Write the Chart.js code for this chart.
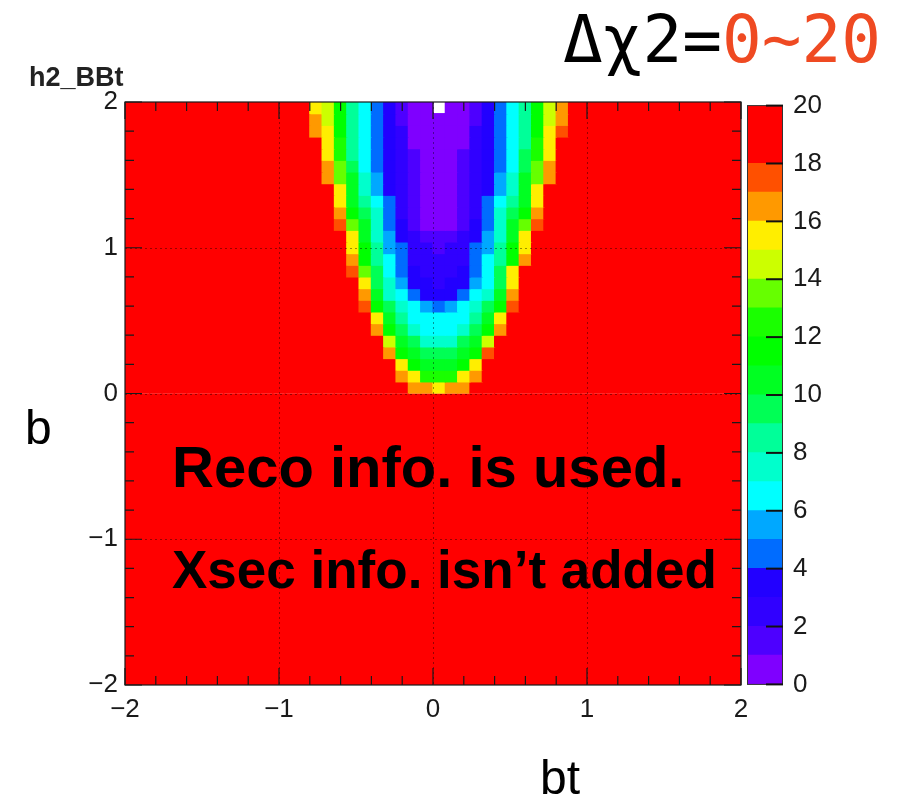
<!DOCTYPE html>
<html>
<head>
<meta charset="utf-8">
<script src="https://cdn.jsdelivr.net/npm/chart.js@4.4.1/dist/chart.umd.min.js"></script>
<style>
  html, body { margin: 0; padding: 0; background: #fff; }
  #wrap { position: relative; width: 900px; height: 799px; overflow: hidden; font-family: "Liberation Sans", Arial, sans-serif; }
  canvas { position: absolute; }
  .lbl { position: absolute; white-space: nowrap; line-height: 1; color: #000; }
</style>
</head>
<body>
<div id="wrap">
  <canvas id="hist" width="900" height="799" style="left:0;top:0"></canvas>
  <canvas id="pal" width="153" height="630" style="left:747px;top:80px"></canvas>
  <div class="lbl" style="left:29px;top:64px;font-size:27px;font-weight:bold;color:#222">h2_BBt</div>
  <div class="lbl" style="left:563px;top:7px;font-size:66px;font-family:'DejaVu Sans Mono',monospace">Δχ2=<span style="color:#ef4a22">0~20</span></div>
  <div class="lbl" style="left:25px;top:404px;font-size:48px">b</div>
  <div class="lbl" style="left:540px;top:754px;font-size:48px">bt</div>
  <div class="lbl" style="left:172px;top:438px;font-size:58px;font-weight:bold">Reco info. is used.</div>
  <div class="lbl" style="left:172px;top:543px;font-size:53px;font-weight:bold">Xsec info. isn’t added</div>
</div>
<script>
// binning of h2_BBt : 50 x 50 bins on [-2, 2] for both bt (x) and b (y)
const nBins = 50;
const axisMin = -2;
const axisMax = 2;

// Δχ2, one row per b bin from the top (b = 2) down to b = 0,
// columns are bt bins 14..36. All other cells are saturated red (>= 20).
const valleyFirstCol = 14;
const saturatedValue = 20;
const dchi2Rows = [
  [20, 15.6, 14.4, 11.5, 8.5, 6.5, 4.5, 3.0, 1.7, 0.8, 0.3, 0, 0.3, 0.8, 1.8, 3.0, 4.6, 6.4, 8.6, 11.4, 14.3, 16.4, 20],
  [20, 16.5, 14.3, 11.6, 8.6, 6.6, 4.6, 3.0, 1.8, 0.8, 0.3, 0.2, 0.3, 0.8, 1.8, 3.0, 4.6, 6.5, 8.7, 11.5, 14.2, 16.6, 20],
  [20, 16.9, 15.2, 11.8, 8.7, 6.7, 4.7, 3.1, 2.0, 0.9, 0.4, 0.3, 0.4, 0.9, 2.0, 3.1, 4.7, 6.6, 8.8, 11.8, 15.3, 17.2, 20],
  [20, 20, 15.4, 12.0, 8.8, 6.8, 4.8, 3.2, 2.1, 0.95, 0.5, 0.4, 0.5, 0.95, 2.1, 3.2, 4.8, 6.7, 8.9, 12.0, 15.5, 20, 20],
  [20, 20, 15.7, 12.3, 8.9, 6.9, 4.9, 3.3, 2.2, 1.2, 0.6, 0.5, 0.6, 1.2, 2.2, 3.3, 4.9, 6.8, 9.0, 12.3, 15.7, 20, 20],
  [20, 20, 16.2, 13.5, 9.6, 6.9, 4.95, 3.4, 2.3, 1.3, 0.65, 0.55, 0.65, 1.3, 2.3, 3.4, 4.95, 6.9, 9.7, 13.4, 16.3, 20, 20],
  [20, 20, 16.7, 13.8, 10.2, 7.4, 5.4, 3.5, 2.4, 1.4, 0.7, 0.6, 0.7, 1.4, 2.4, 3.5, 5.4, 7.5, 10.3, 13.9, 16.8, 20, 20],
  [20, 20, 20, 15.3, 10.6, 7.7, 5.7, 3.7, 2.5, 1.5, 0.75, 0.65, 0.75, 1.5, 2.5, 3.7, 5.6, 7.7, 10.5, 15.4, 20, 20, 20],
  [20, 20, 20, 15.6, 10.9, 8.6, 6.4, 4.4, 2.7, 1.6, 0.8, 0.7, 0.8, 1.6, 2.7, 4.4, 6.4, 8.7, 10.9, 15.7, 20, 20, 20],
  [20, 20, 20, 16.6, 11.6, 9.5, 7.2, 4.7, 2.9, 1.8, 0.9, 0.8, 0.9, 1.8, 2.9, 4.7, 7.0, 9.6, 11.8, 16.7, 20, 20, 20],
  [20, 20, 20, 17.0, 13.7, 10.2, 7.5, 4.9, 3.1, 1.9, 0.95, 0.9, 0.95, 1.9, 3.1, 4.9, 7.4, 10.3, 13.6, 17.1, 20, 20, 20],
  [20, 20, 20, 20, 15.3, 10.6, 7.9, 5.4, 3.4, 2.3, 1.7, 1.5, 1.7, 2.3, 3.4, 5.3, 7.8, 10.7, 15.4, 20, 20, 20, 20],
  [20, 20, 20, 20, 15.7, 11.0, 8.2, 5.7, 4.2, 2.6, 2.1, 1.9, 2.1, 2.6, 4.2, 5.6, 8.1, 11.0, 15.8, 20, 20, 20, 20],
  [20, 20, 20, 20, 16.5, 11.4, 8.6, 6.2, 4.5, 2.8, 2.4, 2.3, 2.4, 2.8, 4.5, 6.2, 8.5, 11.5, 16.8, 20, 20, 20, 20],
  [20, 20, 20, 20, 17.2, 13.8, 9.3, 6.6, 4.8, 3.1, 2.7, 2.6, 2.7, 3.1, 4.8, 6.6, 9.4, 15.0, 20, 20, 20, 20, 20],
  [20, 20, 20, 20, 20, 15.5, 9.8, 7.0, 5.0, 3.4, 3.0, 2.9, 3.0, 3.6, 5.2, 6.8, 9.6, 15.6, 20, 20, 20, 20, 20],
  [20, 20, 20, 20, 20, 16.6, 10.5, 7.8, 6.0, 4.6, 3.6, 3.5, 3.6, 4.6, 6.0, 7.8, 10.6, 16.7, 20, 20, 20, 20, 20],
  [20, 20, 20, 20, 20, 17.2, 11.0, 9.5, 7.5, 6.3, 5.0, 4.8, 5.0, 6.3, 7.6, 9.6, 11.2, 17.3, 20, 20, 20, 20, 20],
  [20, 20, 20, 20, 20, 20, 15.6, 10.8, 8.0, 6.8, 6.2, 6.1, 6.2, 6.8, 8.0, 10.9, 15.8, 20, 20, 20, 20, 20, 20],
  [20, 20, 20, 20, 20, 20, 16.8, 11.5, 9.5, 7.6, 6.7, 6.6, 6.7, 7.6, 9.6, 11.6, 16.9, 20, 20, 20, 20, 20, 20],
  [20, 20, 20, 20, 20, 20, 20, 14.6, 10.5, 9.3, 7.8, 7.6, 7.8, 9.3, 10.6, 14.8, 20, 20, 20, 20, 20, 20, 20],
  [20, 20, 20, 20, 20, 20, 20, 16.8, 11.2, 10.2, 9.6, 9.4, 9.6, 10.3, 11.3, 17.0, 20, 20, 20, 20, 20, 20, 20],
  [20, 20, 20, 20, 20, 20, 20, 20, 15.5, 11.5, 10.8, 10.6, 10.8, 11.6, 15.6, 20, 20, 20, 20, 20, 20, 20, 20],
  [20, 20, 20, 20, 20, 20, 20, 20, 16.8, 15.0, 12.8, 12.5, 12.8, 15.1, 16.9, 20, 20, 20, 20, 20, 20, 20, 20],
  [20, 20, 20, 20, 20, 20, 20, 20, 20, 16.7, 16.2, 15.5, 16.2, 16.7, 20, 20, 20, 20, 20, 20, 20, 20, 20]
];

// colour palette: one colour per unit of Δχ2 from 0 to 20
const zLevels = [0, 1, 2, 3, 4, 5, 6, 7, 8, 9, 10, 11, 12, 13, 14, 15, 16, 17, 18, 19, 20];
const levelColors = [
  '#7f00ff', '#4d00ff', '#3000ff', '#2200ff', '#006cff',
  '#00a8ff', '#00ffff', '#00ffcc', '#00ff99', '#00ff55',
  '#00ff22', '#00ff00', '#1aff00', '#66ff00', '#ccff00',
  '#ffee00', '#ff9900', '#ff5000', '#ff0000', '#ff0000'
];

const axisTicks = [-2, -1, 0, 1, 2];
const zTicks = [0, 2, 4, 6, 8, 10, 12, 14, 16, 18, 20];

Chart.defaults.font.family = '"Liberation Sans", Arial, sans-serif';

const binW = (axisMax - axisMin) / nBins;
const btLabels = [];
for (let k = 0; k < nBins; k++) btLabels.push((axisMin + (k + 0.5) * binW).toFixed(2));

function cellValue(row, col) {
  const r = dchi2Rows[row];
  if (!r) return saturatedValue;
  const i = col - valleyFirstCol;
  if (i < 0 || i >= r.length) return saturatedValue;
  return r[i];
}

function colorFor(v) {
  if (v <= 0) return 'rgba(255,255,255,0)'; // empty bin -> not drawn, as in ROOT
  return levelColors[Math.min(levelColors.length - 1, Math.floor(v))];
}

const minus = v => (v < 0 ? '\u2212' + Math.abs(v) : String(v));

// one floating-bar dataset per b row
const datasets = [];
for (let row = 0; row < nBins; row++) {
  const hi = axisMax - row * binW;
  const lo = hi - binW;
  const vals = btLabels.map((_, col) => cellValue(row, col));
  datasets.push({
    xAxisID: 'x',
    data: vals.map(() => [lo, hi]),
    backgroundColor: vals.map(colorFor),
    borderWidth: 0,
    borderSkipped: false,
    inflateAmount: 0.6,
    barPercentage: 1,
    categoryPercentage: 1,
    grouped: false
  });
}

// dotted grid, frame and inward ROOT style tick marks
const frameTicks = {
  id: 'frameTicks',
  afterDraw(chart) {
    const { ctx, chartArea: a } = chart;
    const sx = chart.scales.xt, sy = chart.scales.y;
    ctx.save();
    ctx.strokeStyle = 'rgba(0,0,0,0.4)';
    ctx.lineWidth = 1;
    ctx.setLineDash([2, 3]);
    axisTicks.slice(1, -1).forEach(v => {
      const px = Math.round(sx.getPixelForValue(v)) + 0.5;
      const py = Math.round(sy.getPixelForValue(v)) + 0.5;
      ctx.beginPath();
      ctx.moveTo(px, a.top); ctx.lineTo(px, a.bottom);
      ctx.moveTo(a.left, py); ctx.lineTo(a.right, py);
      ctx.stroke();
    });
    ctx.setLineDash([]);
    ctx.strokeStyle = '#1a1a1a';
    ctx.lineWidth = 1.2;
    ctx.strokeRect(a.left, a.top, a.right - a.left, a.bottom - a.top);
    for (let i = 0; i <= 20; i++) {
      const v = axisMin + i * 0.2;
      const len = i % 5 === 0 ? 17 : 9;
      const px = sx.getPixelForValue(v), py = sy.getPixelForValue(v);
      ctx.beginPath();
      ctx.moveTo(px, a.bottom); ctx.lineTo(px, a.bottom - len);
      ctx.moveTo(px, a.top); ctx.lineTo(px, a.top + len);
      ctx.moveTo(a.left, py); ctx.lineTo(a.left + len, py);
      ctx.moveTo(a.right, py); ctx.lineTo(a.right - len, py);
      ctx.stroke();
    }
    ctx.restore();
  }
};

const tickFont = { size: 26 };
const hiddenGrid = { color: 'rgba(0,0,0,0)', lineWidth: 1, drawTicks: false, offset: false };

new Chart(document.getElementById('hist'), {
  type: 'bar',
  data: { labels: btLabels, datasets: datasets },
  options: {
    responsive: false,
    animation: false,
    events: [],
    layout: { padding: { left: 85, top: 102, right: 159, bottom: 64 } },
    plugins: { legend: { display: false }, tooltip: { enabled: false } },
    scales: {
      x: { type: 'category', display: false, offset: true },
      xt: {
        type: 'linear', position: 'bottom', min: axisMin, max: axisMax, z: 1, offset: false,
        afterBuildTicks: s => { s.ticks = axisTicks.map(v => ({ value: v })); },
        afterFit: s => { s.height = 50; },
        grid: hiddenGrid,
        border: { display: false },
        ticks: { padding: 9, autoSkip: false, maxRotation: 0, color: '#1a1a1a', font: tickFont, callback: minus }
      },
      y: {
        type: 'linear', min: axisMin, max: axisMax, z: 1, offset: false, beginAtZero: false,
        afterBuildTicks: s => { s.ticks = axisTicks.map(v => ({ value: v })); },
        afterFit: s => { s.width = 40; },
        grid: hiddenGrid,
        border: { display: false },
        ticks: { padding: 7, autoSkip: false, color: '#1a1a1a', font: tickFont, callback: minus }
      }
    }
  },
  plugins: [frameTicks]
});

// colour bar (z axis)
const paletteFrame = {
  id: 'paletteFrame',
  afterDraw(chart) {
    const { ctx, chartArea: a } = chart;
    const sy = chart.scales.y;
    ctx.save();
    ctx.strokeStyle = '#333';
    ctx.lineWidth = 1;
    ctx.strokeRect(a.left + 0.5, a.top, a.right - a.left - 1, a.bottom - a.top);
    ctx.strokeStyle = '#111';
    ctx.lineWidth = 2;
    zTicks.forEach(v => {
      const py = sy.getPixelForValue(v);
      ctx.beginPath();
      ctx.moveTo(a.right, py); ctx.lineTo(a.right - 17, py);
      ctx.stroke();
    });
    ctx.restore();
  }
};

new Chart(document.getElementById('pal'), {
  type: 'bar',
  data: {
    labels: ['z'],
    datasets: levelColors.map((c, i) => ({
      data: [[zLevels[i], zLevels[i + 1]]],
      backgroundColor: c,
      borderWidth: 0,
      inflateAmount: 0.6,
      barPercentage: 1,
      categoryPercentage: 1,
      grouped: false
    }))
  },
  options: {
    responsive: false,
    animation: false,
    events: [],
    layout: { padding: { top: 22, bottom: 25, left: 0, right: 0 } },
    plugins: { legend: { display: false }, tooltip: { enabled: false } },
    scales: {
      x: { display: false, offset: true },
      y: {
        position: 'right', min: 0, max: 20,
        afterBuildTicks: s => { s.ticks = zTicks.map(v => ({ value: v })); },
        afterFit: s => { s.width = 117; },
        grid: { display: false, drawTicks: false },
        border: { display: false },
        ticks: { padding: 10, autoSkip: false, color: '#1a1a1a', font: tickFont }
      }
    }
  },
  plugins: [paletteFrame]
});
</script>
</body>
</html>
